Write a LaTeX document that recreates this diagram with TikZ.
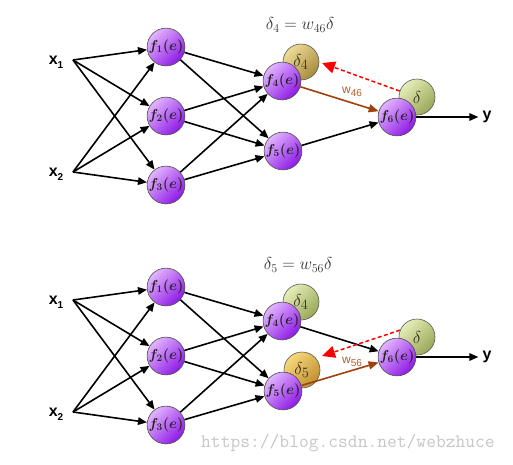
\documentclass[tikz,border=0pt]{standalone}
\usepackage{fontspec}
\newfontfamily\lsans{Liberation Sans}
\usetikzlibrary{arrows.meta}
\definecolor{purpL}{HTML}{E2B4FF}
\definecolor{purpD}{HTML}{8E1AE6}
\definecolor{goldL}{HTML}{EEDC98}
\definecolor{goldD}{HTML}{A88C3C}
\definecolor{greenL}{HTML}{E6EEB8}
\definecolor{greenD}{HTML}{98A858}
\definecolor{orangeL}{HTML}{F8D87C}
\definecolor{orangeD}{HTML}{C09030}
\definecolor{wbrown}{HTML}{A0400C}
\definecolor{wlabel}{HTML}{B0602C}
\definecolor{dtext}{HTML}{3A3020}
\newcommand\lblsub[1]{\raisebox{-0.45ex}{\fontsize{10}{12}\selectfont #1}}
\newcommand\netpart[2]{%
  \node[lbl] (#1x1) at (56,62+#2) {x\lblsub{1}};
  \node[lbl] (#1x2) at (56,174+#2) {x\lblsub{2}};
  \coordinate (#1x1s) at (73,60+#2);
  \coordinate (#1x2s) at (73,172+#2);
  \node[fnode] (#1f1) at (166,47+#2) {$f_1(e)$};
  \node[fnode] (#1f2) at (166,116+#2) {$f_2(e)$};
  \node[fnode] (#1f3) at (166,185+#2) {$f_3(e)$};
  \node[lbl, inner sep=1pt] (#1y) at (487,117+#2) {y};
  \foreach \s in {#1x1s,#1x2s} \foreach \t in {#1f1,#1f2,#1f3} \draw[arr] (\s) -- (\t);
  \foreach \s in {#1f1,#1f2,#1f3} \foreach \t in {#1f4,#1f5} \draw[arr] (\s) -- (\t);
}
\tikzset{
  fnode/.style={circle, draw=black!70, line width=0.6pt, minimum size=36pt, inner sep=0pt,
    top color=purpL, bottom color=purpD, shading angle=45, text=black!85,
    font=\fontsize{14}{16}\selectfont\boldmath},
  dnode/.style={circle, draw=black!65, line width=0.6pt, minimum size=36pt, inner sep=0pt,
    text=dtext, font=\fontsize{19}{22}\selectfont},
  gold/.style={dnode, top color=goldL, bottom color=goldD, shading angle=45},
  green/.style={dnode, top color=greenL, bottom color=greenD, shading angle=45},
  orange/.style={dnode, top color=orangeL, bottom color=orangeD, shading angle=45},
  arr/.style={line width=1.6pt, -{Triangle[length=9pt,width=7.5pt]}},
  brownarr/.style={arr, draw=wbrown, -{Triangle[length=10pt,width=8pt,fill=wbrown]}},
  redarr/.style={draw=red, line width=1.5pt, dash pattern=on 4pt off 2.5pt,
    -{Triangle[length=13pt,width=12pt,fill=red]}},
  lbl/.style={font=\lsans\bfseries\fontsize{16}{18}\selectfont, inner sep=1pt},
  wlbl/.style={text=wlabel, font=\lsans\fontsize{12}{14}\selectfont},
  eq/.style={text=black!80, font=\fontsize{18}{20}\selectfont}
}
\begin{document}
\begin{tikzpicture}[x=1pt,y=-1pt]
\useasboundingbox[fill=white] (0,0) rectangle (513,464);
% ---------- top network ----------
\node[gold] (td4) at (301,62) {$\delta_4$};
\node[green] (td) at (417,97) {$\delta$};
\node[fnode] (tf4) at (282,81) {$f_4(e)$};
\node[fnode] (tf5) at (283,151) {$f_5(e)$};
\node[fnode] (tf6) at (397,117) {$f_6(e)$};
\netpart{t}{0}
\draw[arr] (tf5) -- (tf6);
\draw[brownarr] (tf4) -- (tf6);
\draw[arr, shorten >=3pt] (tf6) -- (ty);
\coordinate (tred) at (322,63);
\draw[redarr] (td.161) -- (tred);
\node[wlbl] (tw) at (352,92) {w\lblsub{46}};
\node[eq] (teq) at (300,25) {$\delta_4 = w_{46}\delta$};
% ---------- bottom network ----------
\node[green] (bd4) at (301,302) {$\delta_4$};
\node[orange] (bd5) at (302,370) {$\delta_5$};
\node[green] (bd) at (417,337) {$\delta$};
\node[fnode] (bf4) at (282,321) {$f_4(e)$};
\node[fnode] (bf5) at (283,391) {$f_5(e)$};
\node[fnode] (bf6) at (397,357) {$f_6(e)$};
\netpart{b}{240}
\draw[arr] (bf4) -- (bf6);
\draw[brownarr] (bf5) -- (bf6);
\draw[arr, shorten >=3pt] (bf6) -- (by);
\coordinate (bred) at (322,356);
\draw[redarr] (bd.158) -- (bred);
\node[wlbl] (bw) at (352,362) {w\lblsub{56}};
\node[eq] (beq) at (298,265) {$\delta_5 = w_{56}\delta$};
% ---------- watermark ----------
\node[text=black!22, font=\ttfamily\fontsize{19}{20}\selectfont, anchor=base west, inner sep=0pt] (wm) at (201,447) {https://blog.csdn.net/webzhuce};
\end{tikzpicture}
\end{document}
